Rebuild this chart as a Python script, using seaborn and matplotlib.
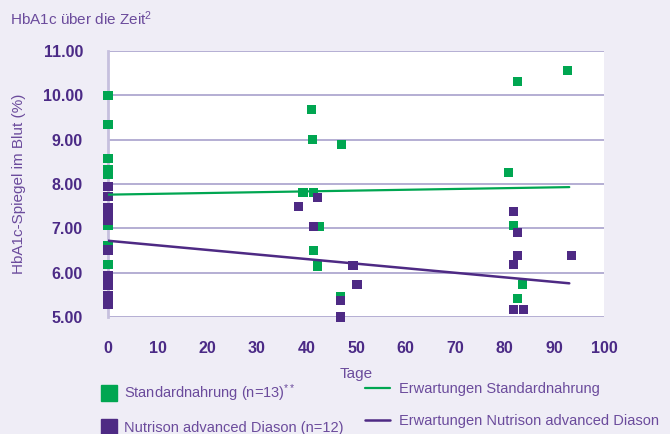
import matplotlib
matplotlib.use('Agg')
import matplotlib.pyplot as plt
import seaborn as sns
import pandas as pd
from matplotlib.lines import Line2D

# values
std_days = [0, 0, 0, 0, 0, 0, 0, 0,
            41.1, 41.3, 47.1, 39.3, 41.5, 42.7, 41.5, 42.3, 46.9, 46.9, 50.3,
            92.6, 82.5, 80.7, 81.7, 83.5, 82.5]
std_hba1c = [10.0, 9.35, 8.58, 8.33, 8.22, 7.07, 6.62, 6.18,
             9.68, 9.0, 8.89, 7.81, 7.81, 7.05, 6.5, 6.15, 5.45, 5.0, 5.74,
             10.56, 10.32, 8.26, 7.07, 5.73, 5.42]
nad_days = [0, 0, 0, 0, 0, 0, 0, 0, 0, 0,
            38.4, 42.3, 41.5, 49.4, 50.2, 46.9, 46.9,
            81.7, 82.5, 82.5, 81.7, 93.4, 81.7, 83.7]
nad_hba1c = [7.94, 7.72, 7.47, 7.32, 7.18, 6.51, 5.94, 5.72, 5.49, 5.28,
             7.49, 7.70, 7.05, 6.16, 5.73, 5.38, 5.0,
             7.38, 6.91, 6.39, 6.19, 6.39, 5.17, 5.17]
trend_days = [0, 93]
std_trend = [7.76, 7.93]
nad_trend = [6.72, 5.76]

x_ticks = [0, 10, 20, 30, 40, 50, 60, 70, 80, 90, 100]
y_ticks = [5, 6, 7, 8, 9, 10, 11]

green = '#00A651'
purple = '#4E2A84'
text_dark = '#4B2A86'
text_light = '#6B4B9C'
bg = '#EFEDF6'
grid_col = '#A098C8'
spine_col = '#C6C0DE'

sns.set_style('white')
plt.rcParams['font.family'] = ['Liberation Sans', 'DejaVu Sans']
plt.rcParams['mathtext.fontset'] = 'custom'
plt.rcParams['mathtext.rm'] = 'Liberation Sans'
plt.rcParams['mathtext.it'] = 'Liberation Sans'

df_std = pd.DataFrame({'Tage': std_days, 'HbA1c': std_hba1c})
df_nad = pd.DataFrame({'Tage': nad_days, 'HbA1c': nad_hba1c})
df_trend = pd.DataFrame({'Tage': trend_days, 'std': std_trend, 'nad': nad_trend})

fig = plt.figure(figsize=(6.7, 4.34), dpi=100, facecolor=bg)
ax = fig.add_axes([108 / 670, 1 - 317 / 434, 496 / 670, 266 / 434])
ax.set_facecolor('white')

sns.scatterplot(data=df_std, x='Tage', y='HbA1c', marker='s', s=44, color=green,
                edgecolor='none', linewidth=0, ax=ax, clip_on=False, zorder=3)
sns.scatterplot(data=df_nad, x='Tage', y='HbA1c', marker='s', s=44, color=purple,
                edgecolor='none', linewidth=0, ax=ax, clip_on=False, zorder=3)
sns.lineplot(data=df_trend, x='Tage', y='std', color=green, lw=1.6, ax=ax, zorder=4)
sns.lineplot(data=df_trend, x='Tage', y='nad', color=purple, lw=1.8, ax=ax, zorder=4)

ax.set_xlim(0, 100)
ax.set_ylim(5, 11)
ax.set_xticks(x_ticks)
ax.set_yticks(y_ticks)
ax.set_yticklabels([f'{v:.2f}' for v in y_ticks])
ax.grid(axis='y', color=grid_col, lw=1.1)
ax.set_axisbelow(True)
for s in ['top', 'right', 'bottom']:
    ax.spines[s].set_visible(False)
ax.spines['left'].set_color(spine_col)
ax.spines['left'].set_linewidth(2)
ax.tick_params(axis='both', colors=grid_col, length=8, width=1.1,
               labelcolor=text_dark, labelsize=11.5)
ax.tick_params(axis='y', pad=10)
ax.tick_params(axis='x', pad=9)
for lab in ax.get_xticklabels() + ax.get_yticklabels():
    lab.set_fontweight('bold')

ax.set_xlabel('Tage', color=text_light, fontsize=11, labelpad=8)
ax.set_ylabel('HbA1c-Spiegel im Blut (%)', color=text_light, fontsize=11, labelpad=12)

fig.text(10 / 670, 1 - 19 / 434, 'HbA1c über die Zeit$^{2}$', color=text_light,
         fontsize=11, va='center', ha='left')

h_sq = [Line2D([], [], marker='s', ls='none', color=green, markersize=11),
        Line2D([], [], marker='s', ls='none', color=purple, markersize=11)]
fig.legend(h_sq, ['Standardnahrung (n=13)$^{**}$', 'Nutrison advanced Diason (n=12)'],
           loc='upper left', bbox_to_anchor=(86 / 670, 1 - 369 / 434),
           frameon=False, fontsize=10.5, labelcolor=text_light,
           labelspacing=1.2, handletextpad=0.3, handlelength=1.4)
h_ln = [Line2D([], [], color=green, lw=1.6), Line2D([], [], color=purple, lw=1.8)]
fig.legend(h_ln, ['Erwartungen Standardnahrung', 'Erwartungen Nutrison advanced Diason'],
           loc='upper left', bbox_to_anchor=(352 / 670, 1 - 369 / 434),
           frameon=False, fontsize=10.5, labelcolor=text_light,
           labelspacing=1.2, handletextpad=0.6, handlelength=1.7)

fig.savefig('out.png', dpi=100, facecolor=bg)
plt.close()
